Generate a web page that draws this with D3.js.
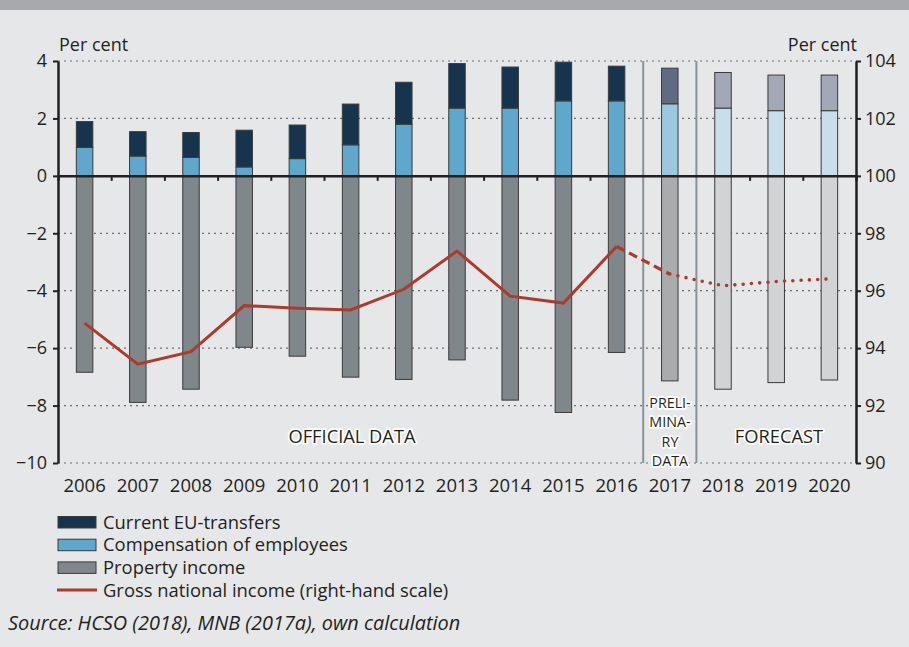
<!DOCTYPE html>
<meta charset="utf-8">
<style type="text/css">
body { margin: 0; background: #e6e7e9; }
svg { display: block; font-family: "Open Sans", sans-serif; }
.axis path, .axis line { stroke: #231f20; }
.axis text { font-size: 18px; fill: #231f20; font-family: "Open Sans", sans-serif; }
.grid { stroke: #6d6e71; stroke-width: 1.2; stroke-dasharray: 2,4; }
.bar { stroke: #3a3a3a; stroke-width: 1; }
.lbl { font-size: 18.3px; fill: #231f20; stroke: #fff; stroke-width: 3.5; paint-order: stroke; stroke-linejoin: round; }
.leg { font-size: 18.4px; fill: #231f20; }
</style>
<body>
<div id="chart"></div>
<script src="https://cdnjs.cloudflare.com/ajax/libs/d3/7.8.5/d3.min.js"></script>
<script>
// years and phase of each (official / preliminary / forecast)
var years = ["2006","2007","2008","2009","2010","2011","2012","2013","2014","2015","2016","2017","2018","2019","2020"];
var phase = ["o","o","o","o","o","o","o","o","o","o","o","p","f","f","f"];

// per cent, left scale
var compensation = [0.99, 0.69, 0.64, 0.31, 0.60, 1.08, 1.80, 2.36, 2.36, 2.61, 2.61, 2.51, 2.36, 2.27, 2.27];
var euTransfers  = [0.90, 0.85, 0.87, 1.28, 1.17, 1.42, 1.46, 1.55, 1.43, 1.35, 1.21, 1.24, 1.24, 1.24, 1.24];
var propertyInc  = [-6.84, -7.89, -7.43, -5.97, -6.28, -7.01, -7.09, -6.41, -7.81, -8.24, -6.15, -7.14, -7.43, -7.20, -7.11];
// right scale
var gni = [94.87, 93.44, 93.88, 95.48, 95.39, 95.33, 96.05, 97.38, 95.81, 95.57, 97.54, 96.58, 96.17, 96.32, 96.41];

var leftTicks = [-10, -8, -6, -4, -2, 0, 2, 4];
var rightTicks = [90, 92, 94, 96, 98, 100, 102, 104];

var colors = {
  eu:   {o: "#17344f", p: "#5f6b84", f: "#a3a8b7"},
  comp: {o: "#5fa8cb", p: "#9dc7de", f: "#c9deeb"},
  prop: {o: "#7f878b", p: "#a9abad", f: "#d1d3d5"}
};

var W = 909, H = 647;
var x0 = 58, x1 = 856, yTop = 61, yBot = 463;

var svg = d3.select("#chart").append("svg")
    .attr("width", W)
    .attr("height", H);

svg.append("rect").attr("width", W).attr("height", H).attr("fill", "#e6e7e9");
svg.append("rect").attr("width", W).attr("height", 10).attr("fill", "#a7a9ac");

var x = d3.scaleBand()
    .domain(years)
    .range([x0, x1])
    .paddingInner(0.69)
    .paddingOuter(0.345);

var y = d3.scaleLinear().domain([-10, 4]).range([yBot, yTop]);
var y2 = d3.scaleLinear().domain([90, 104]).range([yBot, yTop]);

// dotted grid
svg.selectAll(".grid")
    .data(leftTicks.filter(function(d) { return d != 0; }))
  .enter().append("line")
    .attr("class", "grid")
    .attr("x1", x0).attr("x2", x1)
    .attr("y1", function(d) { return y(d); })
    .attr("y2", function(d) { return y(d); });

// bars
var bars = svg.append("g");
years.forEach(function(yr, i) {
  var ph = phase[i], bx = x(yr), bw = x.bandwidth();
  bars.append("rect").attr("class", "bar")
      .attr("x", bx).attr("width", bw)
      .attr("y", y(0)).attr("height", y(propertyInc[i]) - y(0))
      .attr("fill", colors.prop[ph]);
  bars.append("rect").attr("class", "bar")
      .attr("x", bx).attr("width", bw)
      .attr("y", y(compensation[i])).attr("height", y(0) - y(compensation[i]))
      .attr("fill", colors.comp[ph]);
  bars.append("rect").attr("class", "bar")
      .attr("x", bx).attr("width", bw)
      .attr("y", y(compensation[i] + euTransfers[i])).attr("height", y(compensation[i]) - y(compensation[i] + euTransfers[i]))
      .attr("fill", colors.eu[ph]);
});

// separators between official / preliminary / forecast
var step = x.step();
[11, 12].forEach(function(k) {
  svg.append("line")
      .attr("x1", x0 + k * step).attr("x2", x0 + k * step)
      .attr("y1", yTop).attr("y2", yBot)
      .attr("stroke", "#8a9399").attr("stroke-width", 2);
});

// zero line with small ticks between years
var xb = d3.scaleLinear().domain([0, 15]).range([x0, x1]);
svg.append("g")
    .attr("class", "axis")
    .attr("transform", "translate(0," + y(0) + ")")
    .call(d3.axisBottom(xb).tickValues([1,2,3,4,5,6,7,8,9,10,13,14]).tickSize(5).tickFormat(""))
    .call(function(g) { g.select(".domain").attr("stroke-width", 2.5); g.selectAll(".tick line").attr("stroke-width", 2); });

// year labels
svg.append("g")
    .attr("class", "axis")
    .attr("transform", "translate(0," + yBot + ")")
    .call(d3.axisBottom(x).tickSize(0).tickPadding(16))
    .call(function(g) { g.select(".domain").remove(); g.selectAll("text").style("font-size", "18.5px"); });

// left axis
svg.append("g")
    .attr("class", "axis")
    .attr("transform", "translate(" + x0 + ",0)")
    .call(d3.axisLeft(y).tickValues(leftTicks).tickSize(5).tickSizeOuter(0).tickPadding(6))
    .call(function(g) { g.select(".domain").attr("stroke-width", 2.5); g.selectAll(".tick line").attr("stroke-width", 2); });

// right axis
svg.append("g")
    .attr("class", "axis")
    .attr("transform", "translate(" + x1 + ",0)")
    .call(d3.axisRight(y2).tickValues(rightTicks).tickSize(5).tickSizeOuter(0).tickPadding(4))
    .call(function(g) { g.select(".domain").attr("stroke-width", 2.5); g.selectAll(".tick line").attr("stroke-width", 2); });

svg.append("text").attr("x", 59).attr("y", 51).attr("class", "leg").style("font-size", "18px").text("Per cent");
svg.append("text").attr("x", 857).attr("y", 51).attr("class", "leg").style("font-size", "18px")
    .attr("text-anchor", "end").text("Per cent");

// GNI line
var line = d3.line()
    .x(function(d) { return x(d.year) + x.bandwidth() / 2; })
    .y(function(d) { return y2(d.v); });
var pts = years.map(function(yr, i) { return {year: yr, v: gni[i]}; });
var lineColor = "#ae3a2b";
svg.append("path").datum(pts.slice(0, 11)).attr("d", line)
    .attr("fill", "none").attr("stroke", lineColor).attr("stroke-width", 3);
svg.append("path").datum(pts.slice(10, 12)).attr("d", line)
    .attr("fill", "none").attr("stroke", lineColor).attr("stroke-width", 3.2)
    .attr("stroke-dasharray", "9,5");
svg.append("path").datum(pts.slice(11)).attr("d", line)
    .attr("fill", "none").attr("stroke", lineColor).attr("stroke-width", 3.6)
    .attr("stroke-linecap", "round").attr("stroke-dasharray", "0,8.3");

// region labels
svg.append("text").attr("class", "lbl").attr("x", 352).attr("y", 443).attr("text-anchor", "middle").text("OFFICIAL DATA");
svg.append("text").attr("class", "lbl").attr("x", 779).attr("y", 443).attr("text-anchor", "middle").text("FORECAST");
["PRELI-", "MINA-", "RY", "DATA"].forEach(function(t, i) {
  svg.append("text").attr("class", "lbl").style("font-size", "14.3px")
      .attr("x", 670).attr("y", 408 + i * 19.3).attr("text-anchor", "middle").text(t);
});

// legend
var legItems = [
  {name: "Current EU-transfers", fill: colors.eu.o},
  {name: "Compensation of employees", fill: colors.comp.o},
  {name: "Property income", fill: colors.prop.o}
];
legItems.forEach(function(d, i) {
  var ly = 522 + i * 22.7;
  svg.append("rect").attr("x", 58).attr("y", ly - 5.5).attr("width", 38).attr("height", 11.5)
      .attr("fill", d.fill).attr("stroke", "#3a3a3a").attr("stroke-width", 1);
  svg.append("text").attr("class", "leg").attr("x", 103).attr("y", ly + 6.5).text(d.name);
});
svg.append("line").attr("x1", 57).attr("x2", 97).attr("y1", 590).attr("y2", 590)
    .attr("stroke", lineColor).attr("stroke-width", 3);
svg.append("text").attr("class", "leg").attr("x", 103).attr("y", 596.5).text("Gross national income (right-hand scale)");

svg.append("text").attr("class", "leg").attr("x", 8).attr("y", 630)
    .style("font-style", "italic").style("font-size", "19.9px").text("Source: HCSO (2018), MNB (2017a), own calculation");
</script>
</body>
